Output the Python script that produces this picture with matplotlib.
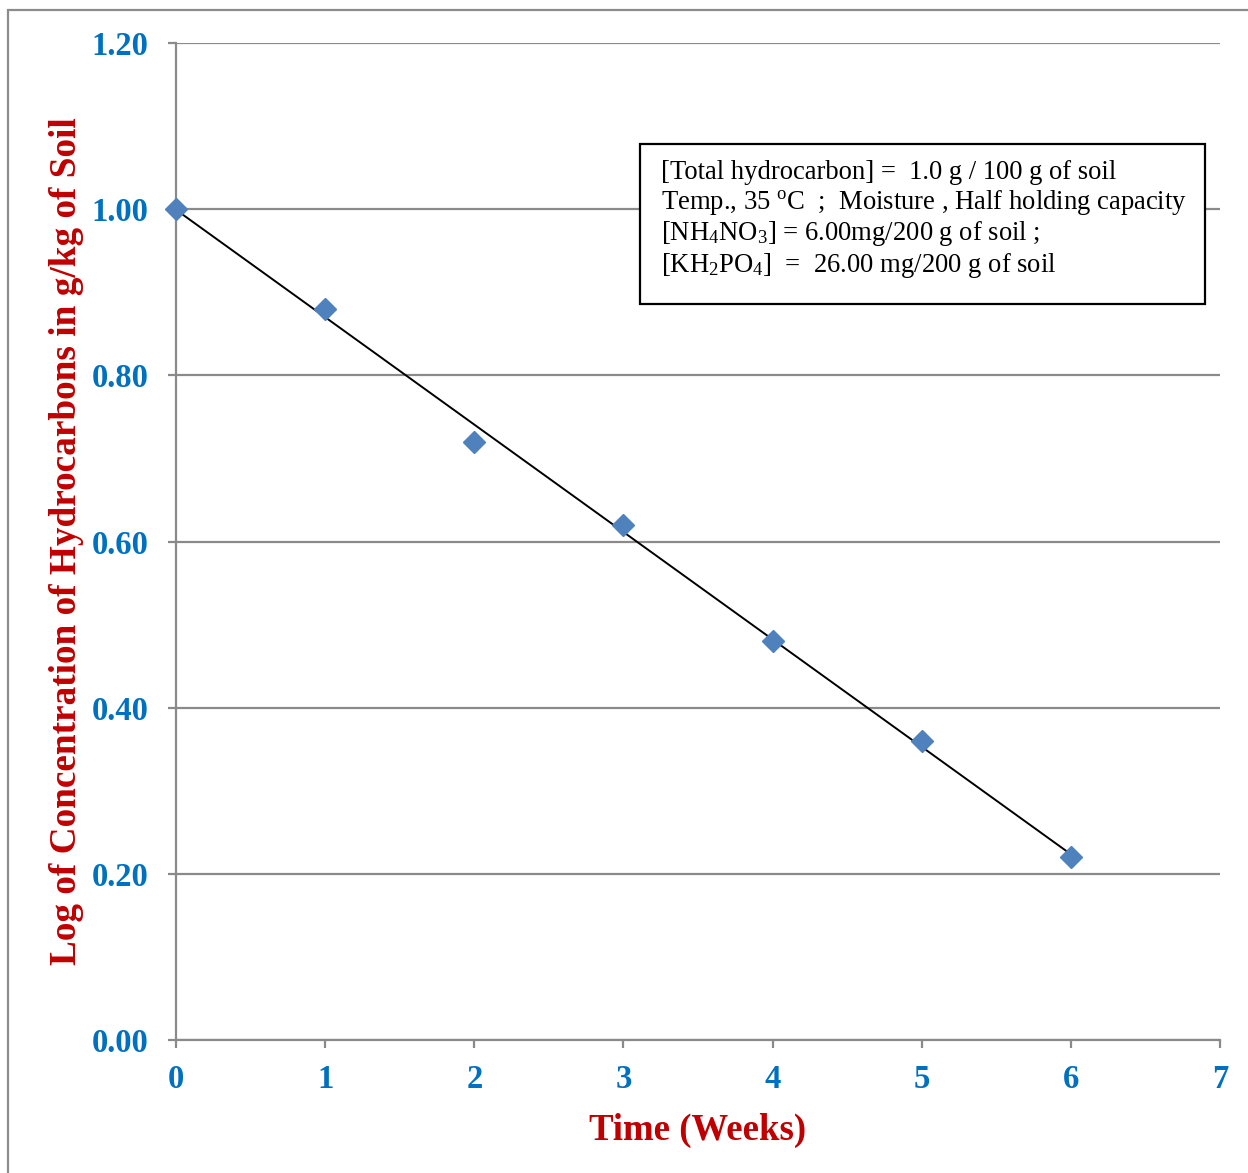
import matplotlib
matplotlib.use("Agg")
import matplotlib.pyplot as plt
import numpy as np
from matplotlib.patches import Rectangle

# Degradation data: log concentration of hydrocarbons vs. time
weeks = [0, 1, 2, 3, 4, 5, 6]
log_conc = [1.00, 0.88, 0.72, 0.62, 0.48, 0.36, 0.22]
x_ticks = [0, 1, 2, 3, 4, 5, 6, 7]
y_ticks = [0.00, 0.20, 0.40, 0.60, 0.80, 1.00, 1.20]

W, H = 1248, 1173
plt.rcParams['font.family'] = ['Liberation Serif', 'DejaVu Serif']
plt.rcParams['mathtext.fontset'] = 'custom'
plt.rcParams['mathtext.rm'] = 'Liberation Serif'
plt.rcParams['mathtext.it'] = 'Liberation Serif:italic'

fig = plt.figure(figsize=(W / 100, H / 100), dpi=100)

# outer chart frame
fig.patches.append(Rectangle((8 / W, -0.05), 1.1, 1 - 10 / H + 0.05,
                             transform=fig.transFigure, fill=False,
                             edgecolor='#8c8c8c', linewidth=1.6))

ax = fig.add_axes([176 / W, 1 - 1040 / H, (1220 - 176) / W, (1040 - 43) / H])

grid_c = '#8a8a8a'
ax.set_xlim(0, 7)
ax.set_ylim(0, 1.2)
ax.set_xticks(x_ticks)
ax.set_yticks(y_ticks)
ax.set_yticklabels([f"{v:.2f}" for v in y_ticks])
ax.yaxis.grid(True, color=grid_c, linewidth=1.6)
ax.set_axisbelow(True)
for s in ('top', 'right'):
    ax.spines[s].set_visible(False)
for s in ('left', 'bottom'):
    ax.spines[s].set_color(grid_c)
    ax.spines[s].set_linewidth(1.6)
ax.tick_params(axis='both', direction='out', length=6, width=1.6, color=grid_c,
               labelcolor='#0070C0', labelsize=23.5)
ax.tick_params(axis='y', pad=14)
ax.tick_params(axis='x', pad=11)
for lab in ax.get_xticklabels() + ax.get_yticklabels():
    lab.set_fontweight('bold')

# least-squares trend line
coef = np.polyfit(weeks, log_conc, 1)
xl = np.array([weeks[0], weeks[-1]])
ax.plot(xl, np.polyval(coef, xl), color='black', linewidth=1.4, zorder=3)
ax.plot(weeks, log_conc, linestyle='none', marker='D', markersize=11,
        color='#4F81BD', zorder=4, clip_on=False)

ax.set_xlabel('Time (Weeks)', color='#C00000', fontsize=26.5, fontweight='bold',
              labelpad=13)
ax.set_ylabel('Log of Concentration of Hydrocarbons in g/kg of Soil',
              color='#C00000', fontsize=26.8, fontweight='bold')
ax.yaxis.set_label_coords(67 / W, 1 - 541.5 / H, transform=fig.transFigure)
ax.yaxis.label.set_va('center')

info = ("[Total hydrocarbon] =  1.0 g / 100 g of soil\n"
        "Temp., 35 $^{\\mathrm{o}}$C  ;  Moisture , Half holding capacity\n"
        "[NH$_4$NO$_3$] = 6.00mg/200 g of soil ;\n"
        "[KH$_2$PO$_4$]  =  26.00 mg/200 g of soil")
ax.text(661 / W, 1 - 160 / H, info, transform=fig.transFigure,
        fontsize=19.2, va='top', ha='left', linespacing=1.13,
        fontfamily='Liberation Serif', zorder=6)
ax.add_patch(Rectangle((640 / W, 1 - 304 / H), (1205 - 640) / W, (304 - 144) / H,
                       transform=fig.transFigure, facecolor='white',
                       edgecolor='black', linewidth=1.6, zorder=5, clip_on=False))

fig.savefig('out.png', dpi=100)
